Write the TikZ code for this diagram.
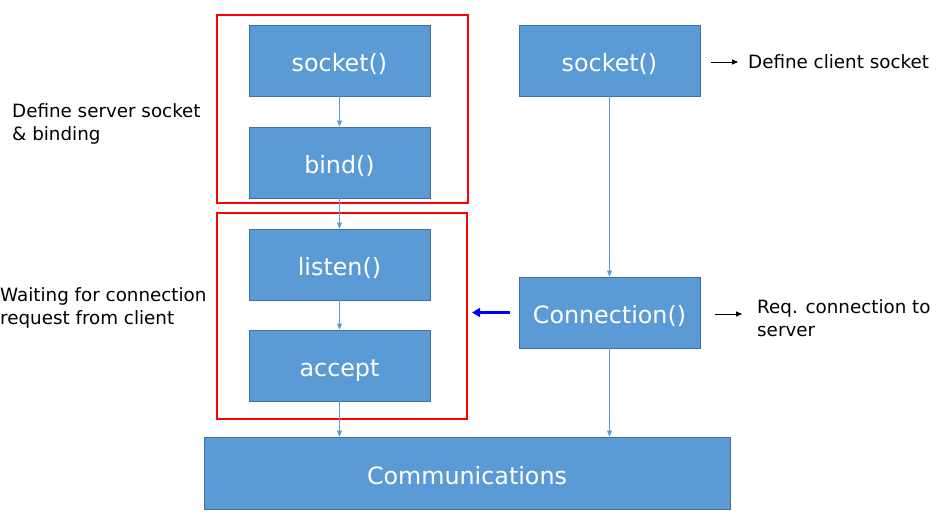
\documentclass[tikz,border=0pt]{standalone}
\usepackage{fontspec}
\setmainfont{DejaVu Sans}
\usetikzlibrary{arrows.meta}
\definecolor{boxfill}{HTML}{5B9BD5}
\definecolor{boxline}{HTML}{41719C}
\definecolor{conn}{HTML}{5B9BD5}
\begin{document}
\begin{tikzpicture}[x=1pt,y=-1pt,
  fbox/.style={draw=boxline,line width=0.8pt,fill=boxfill,text=white,minimum width=181pt,minimum height=71pt,inner sep=0pt,text height=22pt,text depth=0pt,font=\fontsize{23.8}{27}\selectfont},
  redbox/.style={draw=red,line width=2.2pt,inner sep=0pt},
  flow/.style={draw=conn,line width=0.9pt,-{Triangle[length=6pt,width=5pt]}},
  note/.style={font=\fontsize{18.3}{23}\selectfont,align=left,inner sep=0pt,anchor=west},
  pointer/.style={draw=black,line width=0.9pt,-{Triangle[length=6pt,width=5pt]}}]
\useasboundingbox (0,0) rectangle (941,526);
% red groups
\node[redbox,minimum width=251pt,minimum height=188pt] (g1) at (342.5,109) {};
\node[redbox,minimum width=250pt,minimum height=206pt] (g2) at (342,316) {};
% boxes
\node[fbox] (ssock) at (339.5,60.5) {socket()};
\node[fbox] (bind) at (339.5,162.5) {bind()};
\node[fbox] (listen) at (339.5,264.5) {listen()};
\node[fbox] (accept) at (339.5,365.5) {accept};
\node[fbox] (csock) at (609.5,60.5) {socket()};
\node[fbox] (connect) at (609.5,312.5) {Connection()};
\node[fbox,minimum width=526pt,minimum height=72pt] (comm) at (467,473) {Communications};
% flows
\draw[flow] (ssock.south) -- (bind.north);
\draw[flow] (bind.south) -- (listen.north);
\draw[flow] (listen.south) -- (accept.north);
\draw[flow] (accept.south) -- (accept.south |- comm.north);
\draw[flow] (csock.south) -- (connect.north);
\draw[flow] (connect.south) -- (connect.south |- comm.north);
% blue arrow
\coordinate (bstart) at ([xshift=-9pt]connect.west);
\coordinate (bend) at ([xshift=4pt]g2.east |- bstart);
\draw[draw=blue,line width=2.6pt,-{Triangle[length=8pt,width=9pt]}] (bstart) -- (bend);
% notes
\node[note] (n1) at (12,124) {Define server socket\\\& binding};
\node[note] (n2) at (0,307.5) {Waiting for connection\\request from client};
\node[note] (n3) at (748,62) {Define client socket};
\node[note] (n4) at (757,318) {Req. connection to\\server};
\coordinate (a1s) at (711,62);
\coordinate (a2s) at (715,314);
\coordinate (a2e) at (742,314);
\draw[pointer] (a1s) -- ([xshift=-10pt]n3.west);
\draw[pointer] (a2s) -- (a2e);
\end{tikzpicture}
\end{document}
